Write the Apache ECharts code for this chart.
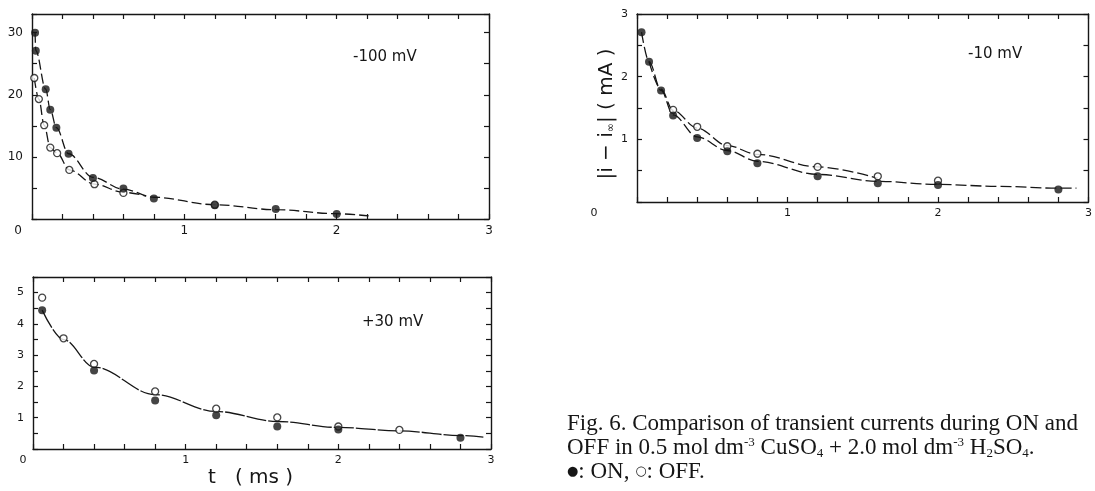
<!DOCTYPE html>
<html>
<head>
<meta charset="utf-8">
<script src="https://cdn.jsdelivr.net/npm/echarts@6/dist/echarts.min.js"></script>
<style>
  html, body { margin: 0; padding: 0; background: #fff; }
  #chart { width: 1095px; height: 491px; }
</style>
</head>
<body>
<div id="chart"></div>
<script>
// |i - i∞| transients (mA) against t (ms): filled = ON, open = OFF

// -100 mV
const onM100 = [[0.02, 30.0], [0.025, 27.1], [0.09, 20.9], [0.12, 17.6], [0.16, 14.7], [0.24, 10.5],
                [0.4, 6.6], [0.6, 4.9], [0.8, 3.3], [1.2, 2.2], [1.6, 1.6], [2.0, 0.8]];
const offM100 = [[0.015, 22.7], [0.045, 19.3], [0.08, 15.1], [0.12, 11.5], [0.165, 10.6], [0.245, 7.9],
                 [0.41, 5.6], [0.6, 4.2], [1.2, 2.3]];
const fitOnM100 = [[0.02, 30.0], [0.025, 27.1], [0.09, 20.9], [0.12, 17.6], [0.16, 14.7], [0.24, 10.5],
                   [0.4, 6.7], [0.6, 4.8], [0.8, 3.5], [1.2, 2.3], [1.6, 1.5], [2.0, 0.85], [2.21, 0.5]];
const fitOffM100 = [[0.015, 22.7], [0.045, 19.3], [0.08, 15.1], [0.12, 11.5], [0.165, 10.6], [0.245, 7.9],
                    [0.41, 5.6], [0.6, 4.3], [0.75, 3.7]];

// -10 mV
const onM10 = [[0.03, 2.71], [0.08, 2.24], [0.16, 1.78], [0.24, 1.38], [0.4, 1.02], [0.6, 0.81],
               [0.8, 0.62], [1.2, 0.41], [1.6, 0.30], [2.0, 0.27], [2.8, 0.20]];
const offM10 = [[0.24, 1.47], [0.4, 1.20], [0.6, 0.89], [0.8, 0.77], [1.2, 0.56], [1.6, 0.41], [2.0, 0.34]];
const fitOnM10 = [[0.03, 2.71], [0.08, 2.24], [0.16, 1.78], [0.24, 1.39], [0.4, 1.04], [0.6, 0.82],
                  [0.8, 0.65], [1.2, 0.44], [1.6, 0.33], [2.0, 0.28], [2.4, 0.25], [2.8, 0.22], [2.92, 0.22]];
const fitOffM10 = [[0.08, 2.24], [0.16, 1.8], [0.24, 1.46], [0.4, 1.18], [0.6, 0.9], [0.8, 0.76],
                   [1.2, 0.56], [1.6, 0.38]];

// +30 mV
const onP30 = [[0.06, 4.44], [0.4, 2.51], [0.8, 1.55], [1.2, 1.08], [1.6, 0.72], [2.0, 0.62], [2.8, 0.36]];
const offP30 = [[0.06, 4.84], [0.2, 3.54], [0.4, 2.72], [0.8, 1.84], [1.2, 1.29], [1.6, 1.01], [2.0, 0.72], [2.4, 0.61]];
const fitP30 = [[0.06, 4.44], [0.2, 3.5], [0.4, 2.62], [0.8, 1.74], [1.2, 1.2], [1.6, 0.88],
                [2.0, 0.69], [2.4, 0.58], [2.8, 0.43], [2.95, 0.38]];

// Axis ranges and tick steps
const tRange = [0, 3];
const tStep = 0.2;
const yMaxes = [33, 3, 5.5];
const ySteps = [5, 0.5, 0.5];
const yLabelSteps = [10, 1, 1];

// Texts
const potentials = ['-100 mV', '-10 mV', '+30 mV'];
const xName = 't   ( ms )';
const yName = '|i − i{s|∞}| ( mA )';
const captionLines = [
  '{r|Fig. 6. Comparison of transient currents during ON and}',
  '{r|OFF in 0.5 mol dm}{sup|-3}{r| CuSO}{sub|4}{r| + 2.0 mol dm}{sup|-3}{r| H}{sub|2}{r|SO}{sub|4}{r|.}',
  '{sym|●}{r|: ON, }{sym|○}{r|: OFF.}'
];

const INK = '#161616';
const SANS = 'DejaVu Sans';
const SERIF = 'Liberation Serif';

const isMult = (v, s) => Math.abs(v / s - Math.round(v / s)) < 1e-6;

const panels = [
  { grid: { left: 32, top: 14, width: 457, height: 205 }, originShift: 14, labelSize: 12,
    fits: [[fitOnM100, [10, 4]], [fitOffM100, [10, 4]]], on: onM100, off: offM100 },
  { grid: { left: 637, top: 14, width: 456, height: 188 }, originShift: 43, labelSize: 11,
    fits: [[fitOnM10, [11, 4]], [fitOffM10, [11, 4]]], on: onM10, off: offM10 },
  { grid: { left: 33, top: 277, width: 458, height: 172 }, originShift: 10, labelSize: 11,
    fits: [[fitP30, [20, 2]]], on: onP30, off: offP30 }
];

const frameLine = { show: true, onZero: false, lineStyle: { color: INK, width: 1.4 } };
const innerTick = { show: true, inside: true, length: 5, lineStyle: { color: INK, width: 1.2 } };

const grids = [], xAxes = [], yAxes = [], series = [];

panels.forEach((p, i) => {
  grids.push(p.grid);
  const xBase = {
    type: 'value', gridIndex: i, min: tRange[0], max: tRange[1], interval: tStep,
    axisLine: frameLine, axisTick: innerTick, splitLine: { show: false }
  };
  xAxes.push(Object.assign({}, xBase, {
    position: 'bottom',
    axisLabel: {
      show: true, margin: 6, color: INK, fontFamily: SANS, fontSize: p.labelSize,
      showMinLabel: true, showMaxLabel: true,
      formatter: v => isMult(v, 1) ? (Math.round(v) === 0 ? '{o|0}' : String(Math.round(v))) : '',
      rich: { o: { padding: [0, 2 * p.originShift, 0, 0], color: INK, fontFamily: SANS, fontSize: p.labelSize } }
    }
  }));
  xAxes.push(Object.assign({}, xBase, { position: 'top', axisLabel: { show: false } }));

  const yBase = {
    type: 'value', gridIndex: i, min: 0, max: yMaxes[i], interval: ySteps[i],
    axisLine: frameLine, axisTick: innerTick, splitLine: { show: false }
  };
  const yLeft = Object.assign({}, yBase, {
    position: 'left',
    axisLabel: {
      show: true, margin: 9, color: INK, fontFamily: SANS, fontSize: p.labelSize,
      formatter: v => (v > 1e-9 && isMult(v, yLabelSteps[i])) ? String(Math.round(v)) : ''
    }
  });
  if (i === 1) {
    Object.assign(yLeft, {
      name: yName, nameLocation: 'middle', nameRotate: 90, nameGap: 16,
      nameTextStyle: {
        color: INK, fontFamily: SANS, fontSize: 20, padding: [0, 12, 0, 0],
        rich: { s: { color: INK, fontFamily: SANS, fontSize: 11, verticalAlign: 'bottom', lineHeight: 12 } }
      }
    });
  }
  yAxes.push(yLeft);
  yAxes.push(Object.assign({}, yBase, { position: 'right', axisLabel: { show: false } }));

  const xi = 2 * i, yi = 2 * i;
  p.fits.forEach(([data, dash]) => {
    series.push({
      type: 'line', xAxisIndex: xi, yAxisIndex: yi, data: data,
      symbol: 'none', showSymbol: false, smooth: 0.35, smoothMonotone: 'x', silent: true, z: 2,
      lineStyle: { color: INK, width: 1.3, type: dash }
    });
  });
  series.push({
    type: 'scatter', xAxisIndex: xi, yAxisIndex: yi, data: p.off, symbol: 'circle', symbolSize: 7, z: 3,
    itemStyle: { color: '#fff', borderColor: INK, borderWidth: 1.3 }, silent: true
  });
  series.push({
    type: 'scatter', xAxisIndex: xi, yAxisIndex: yi, data: p.on, symbol: 'circle', symbolSize: 8, z: 4,
    itemStyle: { color: INK }, silent: true
  });
});

const plainText = (text, left, top, size, family, lineHeight) => ({
  text: text, left: left, top: top, padding: 0,
  textStyle: { color: INK, fontFamily: family, fontSize: size, fontWeight: 'normal', lineHeight: lineHeight }
});

const titles = [
  plainText(potentials[0], 353, 48, 15, SANS, 18),
  plainText(potentials[1], 968, 45, 15, SANS, 18),
  plainText(potentials[2], 362, 313, 15, SANS, 18),
  plainText(xName, 208, 466, 20, SANS, 24),
  {
    text: captionLines.join('\n'), left: 567, top: 412, padding: 0,
    textStyle: {
      color: INK, fontFamily: SERIF, fontSize: 23, fontWeight: 'normal', lineHeight: 24,
      rich: {
        r: { color: INK, fontFamily: SERIF, fontSize: 23, lineHeight: 24 },
        sup: { color: INK, fontFamily: SERIF, fontSize: 13, lineHeight: 14, verticalAlign: 'top' },
        sub: { color: INK, fontFamily: SERIF, fontSize: 13, lineHeight: 12, verticalAlign: 'bottom' },
        sym: { color: INK, fontFamily: SANS, fontSize: 13, lineHeight: 24 }
      }
    }
  }
];

const chart = echarts.init(document.getElementById('chart'), null, { renderer: 'canvas' });
chart.setOption({
  animation: false,
  backgroundColor: '#fff',
  title: titles,
  grid: grids,
  xAxis: xAxes,
  yAxis: yAxes,
  series: series
});
</script>
</body>
</html>
